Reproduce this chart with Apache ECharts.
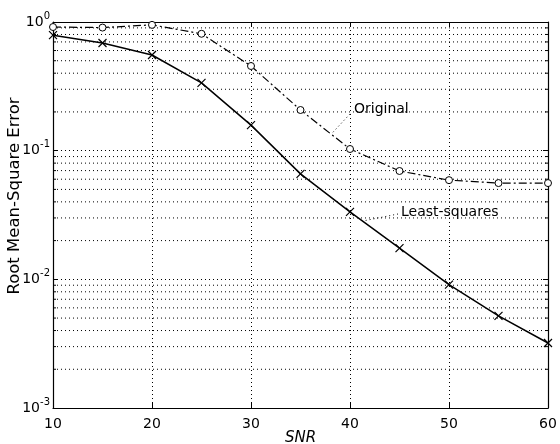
<!DOCTYPE html>
<html>
<head>
<meta charset="utf-8">
<script src="https://cdn.jsdelivr.net/npm/echarts@6/dist/echarts.min.js"></script>
<style>html,body{margin:0;padding:0;background:#fff;}#c{width:560px;height:444px;}</style>
</head>
<body>
<div id="c"></div>
<script>
const snr = [10, 15, 20, 25, 30, 35, 40, 45, 50, 55, 60];
const original = [0.914, 0.905, 0.95, 0.81, 0.455, 0.207, 0.103, 0.0695, 0.059, 0.056, 0.056];
const leastSquares = [0.79, 0.687, 0.554, 0.336, 0.158, 0.066, 0.0334, 0.0175, 0.0091, 0.0052, 0.0032];
const minorGrid = [0.002,0.003,0.004,0.005,0.006,0.007,0.008,0.009,
                   0.02,0.03,0.04,0.05,0.06,0.07,0.08,0.09,
                   0.2,0.3,0.4,0.5,0.6,0.7,0.8,0.9];
const annOriginal = {text: 'Original', at: [40.4, 0.211], from: [40.0, 0.193], to: [38.2, 0.137]};
const annLS = {text: 'Least-squares', at: [45.15, 0.0334], from: [44.85, 0.0322], to: [41.3, 0.0284]};

const FONT = 'DejaVu Sans';
const chart = echarts.init(document.getElementById('c'), null, {renderer: 'canvas'});
const crossPath = 'path://M0,0L10,10M10,0L0,10';
const circlePath = 'path://M10,5A5,5,0,1,1,0,5A5,5,0,1,1,10,5Z';

function annSeries(a) {
  return {
    type: 'line', data: [], silent: true,
    markLine: {
      silent: true, symbol: 'none', animation: false,
      lineStyle: {color: '#000', type: [1, 3], width: 1},
      label: {show: false},
      data: [[{coord: a.from}, {coord: a.to}]]
    },
    markPoint: {
      silent: true, animation: false, symbol: 'circle', symbolSize: 0,
      label: {show: true, position: 'right', distance: 0, formatter: a.text,
        color: '#000', fontFamily: FONT, fontSize: 14},
      data: [{coord: a.at}]
    }
  };
}

const option = {
  animation: false,
  backgroundColor: '#fff',
  grid: {left: 53, right: 12, top: 22, bottom: 36, containLabel: false, outerBoundsMode: 'none'},
  xAxis: [{
    type: 'value', min: 10, max: 60, interval: 10,
    name: 'SNR', nameLocation: 'middle', nameGap: 23, nameMoveOverlap: false,
    nameTextStyle: {color: '#000', fontFamily: FONT, fontSize: 15, fontStyle: 'italic'},
    axisLine: {show: true, lineStyle: {color: '#000', width: 1.2}},
    axisTick: {show: true, inside: true, length: 5, lineStyle: {color: '#000'}},
    axisLabel: {color: '#000', fontFamily: FONT, fontSize: 14, margin: 9},
    splitLine: {show: true, lineStyle: {color: '#000', type: [1, 3], width: 1}}
  }, {
    type: 'value', min: 10, max: 60, interval: 10, position: 'top',
    axisLine: {show: true, lineStyle: {color: '#000', width: 1.2}},
    axisTick: {show: true, inside: true, length: 5, lineStyle: {color: '#000'}},
    axisLabel: {show: false}, splitLine: {show: false}
  }],
  yAxis: [{
    type: 'log', logBase: 10, min: 0.001, max: 1,
    name: 'Root Mean-Square Error', nameLocation: 'middle', nameGap: 30, nameMoveOverlap: false,
    nameTextStyle: {color: '#000', fontFamily: FONT, fontSize: 16.5, padding: [0, 0, 0, 38]},
    axisLine: {show: true, lineStyle: {color: '#000', width: 1.2}},
    axisTick: {show: true, inside: true, length: 5, lineStyle: {color: '#000'}},
    axisLabel: {
      margin: 3,
      formatter: function (v) {
        const e = Math.round(Math.log10(v));
        return '{b|10}{s|' + e + '}';
      },
      rich: {
        b: {color: '#000', fontFamily: FONT, fontSize: 14, lineHeight: 14, verticalAlign: 'bottom'},
        s: {color: '#000', fontFamily: FONT, fontSize: 10, lineHeight: 10, padding: [0, 0, 8, 0], verticalAlign: 'bottom'}
      }
    },
    splitLine: {show: true, lineStyle: {color: '#000', type: [1, 3], width: 1}}
  }, {
    type: 'log', logBase: 10, min: 0.001, max: 1, position: 'right',
    axisLine: {show: true, lineStyle: {color: '#000', width: 1.2}},
    axisTick: {show: true, inside: true, length: 5, lineStyle: {color: '#000'}},
    axisLabel: {show: false}, splitLine: {show: false}
  }],
  series: [
    {
      type: 'custom', silent: true, clip: true,
      data: minorGrid.map(v => [10, v]),
      renderItem: function (params, api) {
        const v = api.value(1);
        const p0 = api.coord([10, v]);
        const p1 = api.coord([60, v]);
        return {
          type: 'group',
          children: [
            {type: 'line', shape: {x1: p0[0], y1: p0[1], x2: p1[0], y2: p1[1]},
             style: {stroke: '#000', lineWidth: 1, lineDash: [1, 3]}},
            {type: 'line', shape: {x1: p0[0], y1: p0[1], x2: p0[0] + 3, y2: p0[1]},
             style: {stroke: '#000', lineWidth: 1}},
            {type: 'line', shape: {x1: p1[0] - 3, y1: p1[1], x2: p1[0], y2: p1[1]},
             style: {stroke: '#000', lineWidth: 1}}
          ]
        };
      }
    },
    {
      name: 'Original', type: 'line',
      data: snr.map((x, i) => [x, original[i]]),
      symbol: circlePath, symbolSize: 7, showSymbol: true, showAllSymbol: true,
      itemStyle: {color: '#fff', borderColor: '#000', borderWidth: 1},
      lineStyle: {color: '#000', width: 1.2, type: [8, 3, 2, 3]}
    },
    {
      name: 'Least-squares', type: 'line',
      data: snr.map((x, i) => [x, leastSquares[i]]),
      symbol: crossPath, symbolSize: 8,
      itemStyle: {color: 'rgba(0,0,0,0)', borderColor: '#000', borderWidth: 1.2},
      lineStyle: {color: '#000', width: 1.5}
    },
    annSeries(annOriginal),
    annSeries(annLS)
  ]
};
chart.setOption(option);
</script>
</body>
</html>
